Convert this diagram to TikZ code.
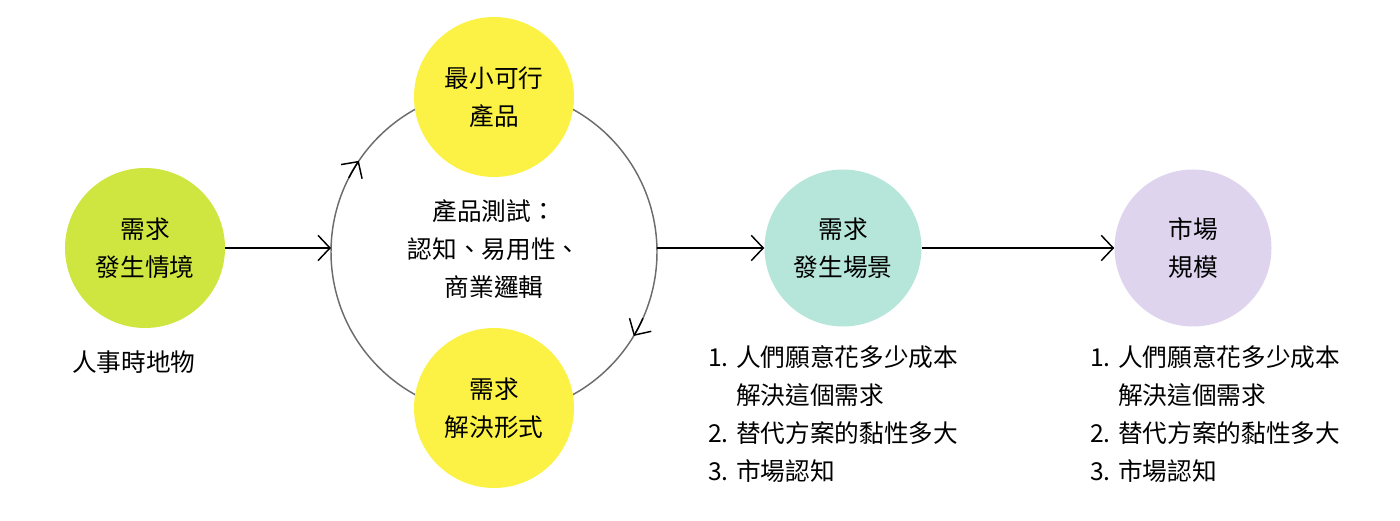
\documentclass[tikz,border=0pt]{standalone}
\usepackage{fontspec}
\setmainfont{Noto Sans CJK TC}
\usetikzlibrary{arrows.meta,calc}
\definecolor{cgreen}{RGB}{208,230,64}
\definecolor{cyellow}{RGB}{252,242,69}
\definecolor{cteal}{RGB}{182,230,218}
\definecolor{cpurple}{RGB}{222,212,238}
\begin{document}
\begin{tikzpicture}[x=0.75pt,y=0.75pt,
  ball/.style={circle,minimum size=#1*0.75pt,inner sep=0pt,align=center,font=\fontsize{18.5}{28.5}\selectfont},
  txt/.style={align=left,font=\fontsize{18.5}{28.5}\selectfont,inner sep=0pt},
  tip/.style={-{Straight Barb[length=9pt,width=19pt,line width=1.1pt]}},
  arr/.style={line width=1.1pt,tip}]
\useasboundingbox (0,0) rectangle (1400,521);
\coordinate (c) at (494,269);
\draw[gray!85!black,line width=1.1pt] (c) circle[radius=163];
\node[ball=160,fill=cgreen] (g) at (145,273) {需求\\發生情境};
\node[ball=160,fill=cyellow] (m) at (494,424) {最小可行\\產品};
\node[ball=160,fill=cyellow] (s) at (494,113) {需求\\解決形式};
\node[ball=157,fill=cteal] (t) at (843,273) {需求\\發生場景};
\node[ball=157,fill=cpurple] (p) at (1193,273) {市場\\規模};
\node[align=center,font=\fontsize{18.5}{28.5}\selectfont] (ct) at (494,272) {產品測試：\\認知、易用性、\\商業邏輯};
\coordinate (lin) at (331,273);
\coordinate (rout) at (657,273);
\draw[arr] (g.east) -- (lin);
\draw[arr] (rout) -- (t.west);
\draw[arr] (t.east) -- (p.west);
\draw[line width=1.1pt,tip] ($(c)+(153:163)$) arc[start angle=153,end angle=146,radius=163];
\draw[line width=1.1pt,tip] ($(c)+(-24:163)$) arc[start angle=-24,end angle=-31,radius=163];
\node[txt,anchor=west] (g2) at (72,159) {人事時地物};
\node[txt,anchor=north west] (tl) at (708,176) {1. 人們願意花多少成本\\\phantom{1. }解決這個需求\\2. 替代方案的黏性多大\\3. 市場認知};
\node[txt,anchor=north west] (pl) at (1090,176) {1. 人們願意花多少成本\\\phantom{1. }解決這個需求\\2. 替代方案的黏性多大\\3. 市場認知};
\end{tikzpicture}
\end{document}
